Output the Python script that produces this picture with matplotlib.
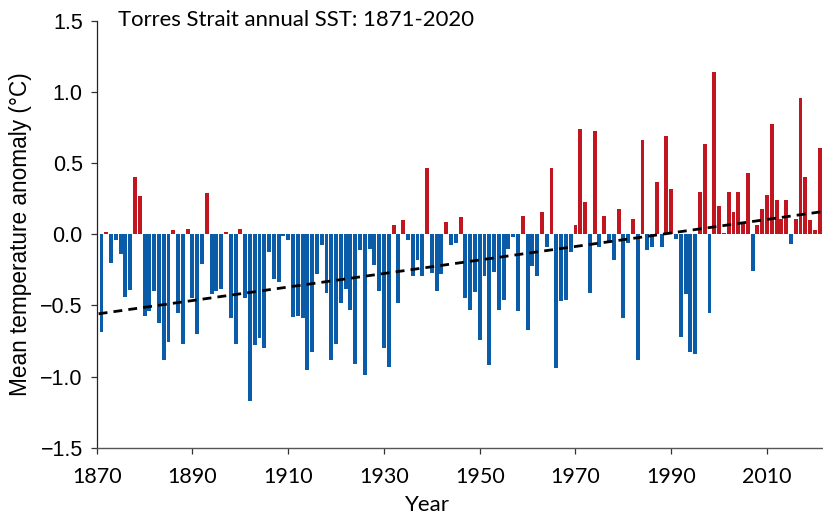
import numpy as np
import matplotlib
matplotlib.use("Agg")
import matplotlib.pyplot as plt

# annual SST anomaly (deg C), 1871 onwards
years = list(range(1871, 2022))
anomaly = [
    -0.69, 0.02, -0.20, -0.04, -0.14, -0.44, -0.39, 0.40, 0.27, -0.575,
    -0.54, -0.40, -0.62, -0.885, -0.76, 0.03, -0.55, -0.77, 0.04, -0.45,
    -0.70, -0.21, 0.29, -0.42, -0.40, -0.385, 0.02, -0.59, -0.77, 0.04,
    -0.45, -1.17, -0.78, -0.73, -0.80, -0.125, -0.315, -0.335, -0.01, -0.04,
    -0.58, -0.575, -0.59, -0.955, -0.83, -0.28, -0.075, -0.41, -0.885, -0.77,
    -0.48, -0.385, -0.53, -0.91, -0.11, -0.99, -0.10, -0.215, -0.40, -0.80,
    -0.93, 0.063, -0.48, 0.10, -0.04, -0.29, -0.18, -0.29, 0.47, -0.27,
    -0.40, -0.28, 0.09, -0.075, -0.06, 0.12, -0.45, -0.53, -0.405, -0.74,
    -0.29, -0.92, -0.265, -0.53, -0.46, -0.10, -0.02, -0.54, 0.13, -0.67,
    -0.22, -0.29, 0.16, -0.09, 0.465, -0.94, -0.47, -0.46, -0.125, 0.063,
    0.74, 0.225, -0.41, 0.725, -0.09, 0.127, -0.054, -0.18, 0.176, -0.59,
    -0.06, 0.106, -0.88, 0.66, -0.11, -0.09, 0.366, -0.09, 0.69, 0.317,
    -0.033, -0.72, -0.42, -0.83, -0.84, 0.30, 0.634, -0.555, 1.14, 0.197,
    0.007, 0.30, 0.16, 0.30, 0.08, 0.43, -0.26, 0.063, 0.18, 0.28,
    0.775, 0.24, 0.11, 0.24, -0.07, 0.11, 0.96, 0.40, 0.10, 0.03,
    0.61,
]
x_ticks = [1870, 1890, 1910, 1930, 1950, 1970, 1990, 2010]
y_ticks = [-1.5, -1.0, -0.5, 0.0, 0.5, 1.0, 1.5]
y_labels = ["\u22121.5", "\u22121.0", "\u22120.5", "0.0", "0.5", "1.0", "1.5"]

BLUE = "#0a5ca8"
RED = "#c1161f"

yrs = np.array(years)
vals = np.array(anomaly)
colors = [RED if v > 0 else BLUE for v in vals]

fig = plt.figure(figsize=(8.23, 5.15), dpi=100)
ax = fig.add_axes([0.1175, 0.1307, 0.8825, 0.8285])

ax.bar(yrs, vals, width=0.82, color=colors, linewidth=0)

# linear trend
slope, icpt = np.polyfit(yrs, vals, 1)
tx = np.array([1870.4, 2021.7])
tl, = ax.plot(tx, slope * tx + icpt, color="black", lw=2.0, ls="--")
tl.set_dashes([3.2, 2.2])

ax.set_xlim(1870.4, 2021.7)
ax.set_ylim(-1.5, 1.5)
ax.set_xticks(x_ticks)
ax.set_yticks(y_ticks)
ax.set_yticklabels(y_labels, family="Liberation Sans", fontsize=15.5)
ax.set_xticklabels([str(t) for t in x_ticks], family="Lato", fontsize=15.5)
ax.tick_params(axis="both", length=4, width=0.9, color="#333333")
ax.tick_params(axis="y", pad=6)
ax.tick_params(axis="x", pad=10)

for s in ["top", "right"]:
    ax.spines[s].set_visible(False)
ax.spines["left"].set_color("#222222")
ax.spines["bottom"].set_color("#555555")
ax.spines["left"].set_linewidth(0.9)
ax.spines["bottom"].set_linewidth(1.0)

ax.set_xlabel("Year", family="Lato", fontsize=16)
ax.xaxis.set_label_coords(0.456, -0.112)
ax.set_ylabel("Mean temperature anomaly (\u00b0C)", family="Liberation Sans", fontsize=16.3)
ax.yaxis.set_label_coords(-0.089, 0.5)

fig.text(118 / 823, 1 - 20 / 515, "Torres Strait annual SST: 1871-2020",
         family="Lato", fontsize=15.9, va="center", ha="left")

fig.savefig("out.png", dpi=100)
